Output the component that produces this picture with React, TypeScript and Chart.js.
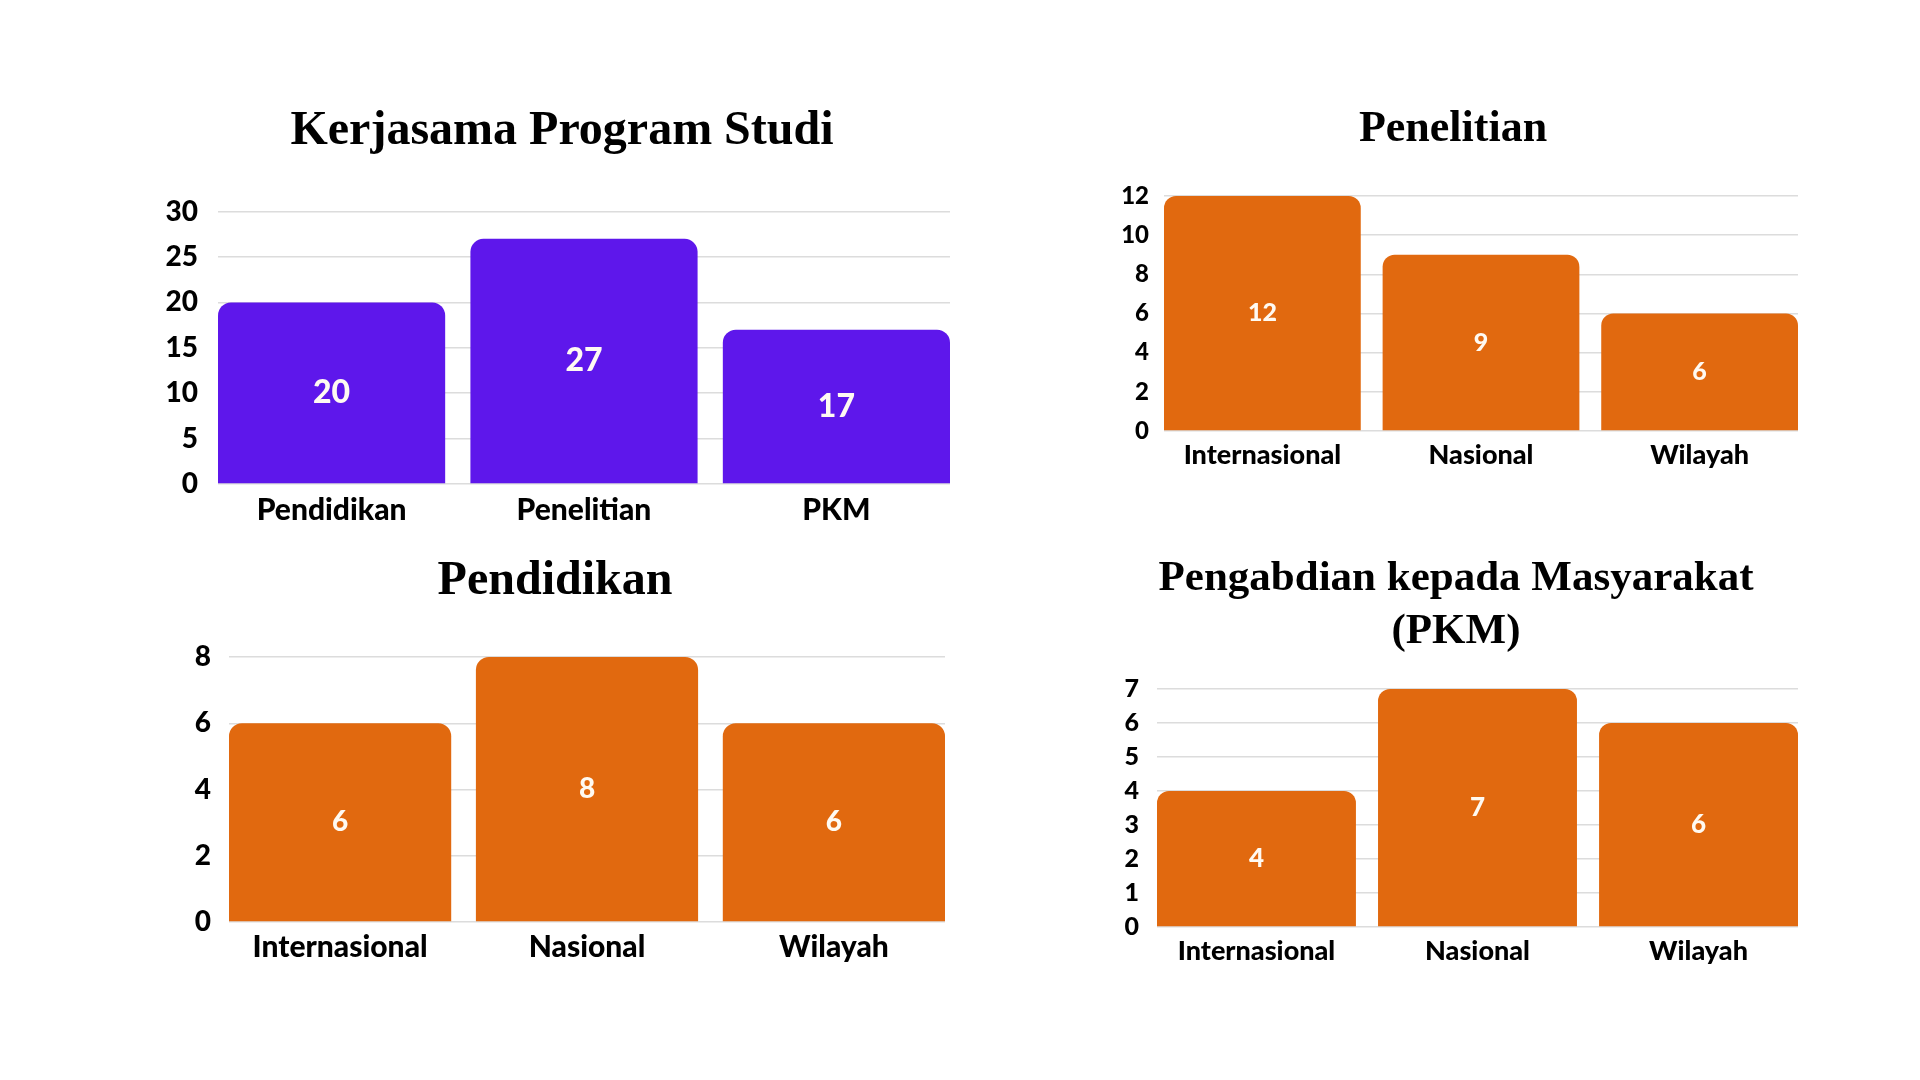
import React, { useEffect, useRef } from "react";
import { Chart, registerables } from "chart.js";

Chart.register(...registerables);

// ---- data ----
const programCategories = ["Pendidikan", "Penelitian", "PKM"];
const programValues = [20, 27, 17];

const scopeCategories = ["Internasional", "Nasional", "Wilayah"];
const penelitianValues = [12, 9, 6];
const pendidikanValues = [6, 8, 6];
const pkmValues = [4, 7, 6];

const programTitle = "Kerjasama Program Studi";
const penelitianTitle = "Penelitian";
const pendidikanTitle = "Pendidikan";
const pkmTitle = ["Pengabdian kepada Masyarakat", "(PKM)"];

const PURPLE = "#5e17eb";
const ORANGE = "#e1690f";
const GRID = "#dcdcdc";
const SERIF = "'Liberation Serif', 'Times New Roman', serif";
const SANS = "Lato, 'Open Sans', sans-serif";

type Panel = {
  title: string | string[];
  categories: string[];
  values: number[];
  color: string;
  yMax: number;
  yStep: number;
  box: { left: number; top: number; width: number; height: number };
  padL: number;
  padR: number;
  yAxisWidth: number;
  rightAxisWidth: number;
  xAxisHeight: number;
  titleSize: number;
  titleLineHeight: number;
  titlePadTop: number;
  titlePadBottom: number;
  tickSize: number;
  tickPad: number;
  labelSize: number;
  labelPad: number;
  valueSize: number;
  radius: number;
};

// draws each bar's value in the middle of the bar
const valueLabels = {
  id: "valueLabels",
  afterDatasetsDraw(chart: any) {
    const { ctx } = chart;
    const size = chart.options.plugins.valueLabels?.size ?? 24;
    chart.data.datasets.forEach((ds: any, di: number) => {
      const meta = chart.getDatasetMeta(di);
      meta.data.forEach((bar: any, i: number) => {
        const v = ds.data[i].y;
        ctx.save();
        ctx.fillStyle = "#fffaf2";
        ctx.font = `900 ${size}px ${SANS}`;
        ctx.textAlign = "center";
        ctx.textBaseline = "middle";
        ctx.fillText(String(v), bar.x, (bar.y + bar.base) / 2);
        ctx.restore();
      });
    });
  },
};

function BarPanel({ p }: { p: Panel }) {
  const ref = useRef<HTMLCanvasElement | null>(null);

  useEffect(() => {
    if (!ref.current) return;
    const scales: any = {
      x: {
        type: "linear",
        offset: false,
        min: -0.45,
        max: p.categories.length - 0.55,
        afterBuildTicks: (s: any) => {
          s.ticks = p.categories.map((_, i) => ({ value: i }));
        },
        afterFit: (s: any) => {
          s.height = p.xAxisHeight;
        },
        grid: { display: false, drawTicks: false, offset: false },
        border: { display: false },
        ticks: {
          autoSkip: false,
          maxRotation: 0,
          color: "#000",
          padding: p.labelPad,
          font: { family: SANS, size: p.labelSize, weight: "900" },
          callback: (v: any) => p.categories[Math.round(Number(v))] ?? "",
        },
      },
      y: {
        min: 0,
        max: p.yMax,
        afterFit: (s: any) => {
          s.width = p.yAxisWidth;
        },
        grid: { color: GRID, lineWidth: 1.5, drawTicks: false },
        border: { display: false },
        ticks: {
          stepSize: p.yStep,
          color: "#000",
          padding: p.tickPad,
          font: { family: SANS, size: p.tickSize, weight: "900" },
        },
      },
    };
    if (p.rightAxisWidth > 0) {
      // empty right-hand gutter so the title centres over the whole panel
      scales.gutter = {
        position: "right",
        axis: "y",
        grid: { display: false, drawTicks: false },
        border: { display: false },
        ticks: { display: false },
        afterFit: (s: any) => {
          s.width = p.rightAxisWidth;
        },
      };
    }
    const chart = new Chart(ref.current, {
      type: "bar",
      data: {
        datasets: [
          {
            data: p.values.map((v, i) => ({ x: i, y: v })),
            backgroundColor: p.color,
            borderRadius: p.radius,
            borderSkipped: "bottom",
            categoryPercentage: 1,
            barPercentage: 0.9,
          } as any,
        ],
      },
      options: {
        responsive: false,
        animation: false,
        devicePixelRatio: 1,
        layout: { padding: { left: p.padL, right: p.padR, top: 0, bottom: 0 } },
        plugins: {
          legend: { display: false },
          tooltip: { enabled: false },
          title: {
            display: true,
            text: p.title,
            color: "#000",
            font: { family: SERIF, size: p.titleSize, weight: "bold", lineHeight: p.titleLineHeight },
            padding: { top: p.titlePadTop, bottom: p.titlePadBottom },
          },
          valueLabels: { size: p.valueSize },
        } as any,
        scales,
      },
      plugins: [valueLabels as any],
    });
    return () => chart.destroy();
  }, [p]);

  return (
    <div
      style={{
        position: "absolute",
        left: p.box.left,
        top: p.box.top,
        width: p.box.width,
        height: p.box.height,
      }}
    >
      <canvas ref={ref} width={p.box.width} height={p.box.height} />
    </div>
  );
}

const panels: Panel[] = [
  {
    title: programTitle,
    categories: programCategories,
    values: programValues,
    color: PURPLE,
    yMax: 30,
    yStep: 5,
    box: { left: 130, top: 60, width: 854, height: 480 },
    padL: 20,
    padR: 10,
    yAxisWidth: 68,
    rightAxisWidth: 24,
    xAxisHeight: 56,
    titleSize: 48,
    titleLineHeight: 1.2,
    titlePadTop: 43,
    titlePadBottom: 51,
    tickSize: 28,
    tickPad: 20,
    labelSize: 30,
    labelPad: 8,
    valueSize: 32,
    radius: 13,
  },
  {
    title: penelitianTitle,
    categories: scopeCategories,
    values: penelitianValues,
    color: ORANGE,
    yMax: 12,
    yStep: 2,
    box: { left: 1090, top: 60, width: 718, height: 420 },
    padL: 18,
    padR: 10,
    yAxisWidth: 56,
    rightAxisWidth: 0,
    xAxisHeight: 49,
    titleSize: 44,
    titleLineHeight: 1.2,
    titlePadTop: 43.6,
    titlePadBottom: 39.6,
    tickSize: 24,
    tickPad: 15,
    labelSize: 27,
    labelPad: 8,
    valueSize: 25,
    radius: 12,
  },
  {
    title: pendidikanTitle,
    categories: scopeCategories,
    values: pendidikanValues,
    color: ORANGE,
    yMax: 8,
    yStep: 2,
    box: { left: 130, top: 530, width: 825, height: 450 },
    padL: 35,
    padR: 10,
    yAxisWidth: 64,
    rightAxisWidth: 0,
    xAxisHeight: 58,
    titleSize: 48,
    titleLineHeight: 1.2,
    titlePadTop: 23.2,
    titlePadBottom: 46.2,
    tickSize: 28,
    tickPad: 18,
    labelSize: 30,
    labelPad: 7.5,
    valueSize: 28,
    radius: 13,
  },
  {
    title: pkmTitle,
    categories: scopeCategories,
    values: pkmValues,
    color: ORANGE,
    yMax: 7,
    yStep: 1,
    box: { left: 1090, top: 530, width: 718, height: 450 },
    padL: 24,
    padR: 10,
    yAxisWidth: 43,
    rightAxisWidth: 0,
    xAxisHeight: 53,
    titleSize: 43,
    titleLineHeight: 1.22,
    titlePadTop: 23,
    titlePadBottom: 31.1,
    tickSize: 25,
    tickPad: 18,
    labelSize: 27,
    labelPad: 8,
    valueSize: 26,
    radius: 12,
  },
];

export default function App() {
  return (
    <div
      style={{
        position: "fixed",
        left: 0,
        top: 0,
        width: 1920,
        height: 1080,
        background: "#ffffff",
        overflow: "hidden",
      }}
    >
      {panels.map((p, i) => (
        <BarPanel key={i} p={p} />
      ))}
    </div>
  );
}
